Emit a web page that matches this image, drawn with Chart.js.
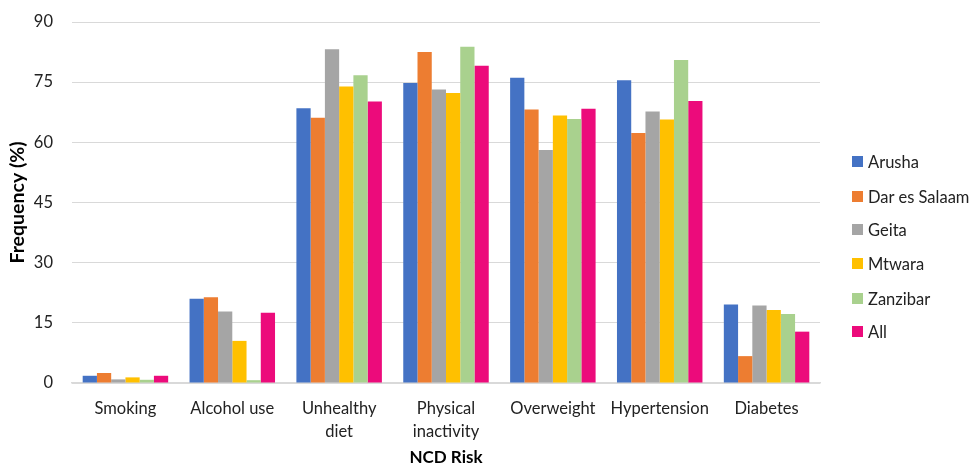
<!DOCTYPE html>
<html>
<head>
<meta charset="utf-8">
<script src="https://cdn.jsdelivr.net/npm/chart.js@4.4.1/dist/chart.umd.min.js"></script>
<style>
  html, body { margin: 0; padding: 0; background: #fff; }
  #wrap { position: relative; width: 972px; height: 466px; }
  #legend { position: absolute; left: 852px; top: 0; font-family: Lato, "Liberation Sans", sans-serif; font-size: 16.5px; color: #222; }
  .item { position: absolute; left: 0; white-space: nowrap; height: 20px; line-height: 20px; }
  .box { position: absolute; left: 0; top: 4px; width: 11px; height: 11px; }
  .lbl { position: absolute; left: 16px; top: 0; }
</style>
</head>
<body>
<div id="wrap">
  <canvas id="chart" width="972" height="466"></canvas>
  <div id="legend"></div>
</div>
<script>
// categories and series (percent)
const categories = [['Smoking'], ['Alcohol use'], ['Unhealthy', 'diet'], ['Physical', 'inactivity'], ['Overweight'], ['Hypertension'], ['Diabetes']];
const seriesNames = ['Arusha', 'Dar es Salaam', 'Geita', 'Mtwara', 'Zanzibar', 'All'];
const arusha   = [1.8, 21.0, 68.5, 74.8, 76.1, 75.5, 19.6];
const darEs    = [2.5, 21.4, 66.1, 82.5, 68.2, 62.3, 6.7];
const geita    = [0.9, 17.8, 83.2, 73.2, 58.1, 67.7, 19.3];
const mtwara   = [1.4, 10.5, 73.9, 72.3, 66.7, 65.7, 18.2];
const zanzibar = [0.8, 0.7, 76.7, 83.8, 65.8, 80.5, 17.2];
const all      = [1.8, 17.5, 70.2, 79.1, 68.4, 70.3, 12.8];
const yTicks = [0, 15, 30, 45, 60, 75, 90];

const colors = ['#4472C4', '#ED7D31', '#A5A5A5', '#FFC000', '#A9D18E', '#EC0B7B'];
const values = [arusha, darEs, geita, mtwara, zanzibar, all];

const fontFamily = 'Lato, "Liberation Sans", sans-serif';

const datasets = seriesNames.map((name, i) => ({
    label: name,
    data: values[i],
    backgroundColor: colors[i],
    borderWidth: 0,
    barPercentage: 1.0,
    categoryPercentage: 0.8
}));

new Chart(document.getElementById('chart').getContext('2d'), {
    type: 'bar',
    data: { labels: categories, datasets: datasets },
    options: {
        responsive: false,
        animation: false,
        layout: { padding: { top: 22, right: 152, bottom: 0, left: 0 } },
        plugins: {
            legend: { display: false },
            tooltip: { enabled: false }
        },
        scales: {
            x: {
                grid: { display: false, drawTicks: false },
                border: { display: true, color: '#d9d9d9', width: 1.5 },
                ticks: {
                    color: '#222',
                    padding: 15,
                    maxRotation: 0,
                    autoSkip: false,
                    font: { family: fontFamily, size: 16.5, lineHeight: 1.35 }
                },
                title: {
                    display: true,
                    text: 'NCD Risk',
                    color: '#000',
                    padding: { top: 0, bottom: 0 },
                    font: { family: fontFamily, size: 17, weight: 'bold', lineHeight: 1.0 }
                },
                afterFit: (scale) => { scale.height = 83; }
            },
            y: {
                min: 0,
                max: 90,
                afterBuildTicks: (scale) => { scale.ticks = yTicks.map(v => ({ value: v })); },
                // invisible tick marks keep the labels away from the plot
                grid: { color: '#d9d9d9', lineWidth: 1, drawTicks: true, tickLength: 19, tickColor: 'rgba(0,0,0,0)' },
                border: { display: false },
                ticks: {
                    color: '#222',
                    padding: 0,
                    font: { family: fontFamily, size: 16.5 }
                },
                title: {
                    display: true,
                    text: 'Frequency (%)',
                    color: '#000',
                    padding: { top: 6, bottom: 0 },
                    font: { family: fontFamily, size: 19.5, weight: 'bold', lineHeight: 1.2 }
                },
                afterFit: (scale) => { scale.width = 72; }
            }
        }
    }
});

// legend on the right, built from the series names and colours
const legend = document.getElementById('legend');
const legendTop = [152, 187, 220, 254, 289, 322];
seriesNames.forEach((name, i) => {
    const item = document.createElement('div');
    item.className = 'item';
    item.style.top = legendTop[i] + 'px';
    item.innerHTML = `<span class="box" style="background:${colors[i]}"></span><span class="lbl">${name}</span>`;
    legend.appendChild(item);
});
</script>
</body>
</html>
